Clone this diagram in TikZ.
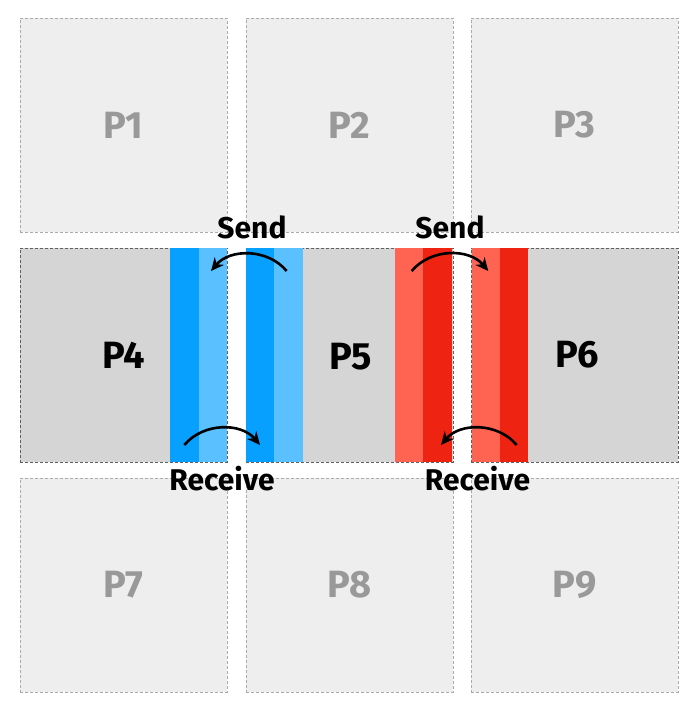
\documentclass[tikz,border=0pt]{standalone}
\usepackage{fontspec}
\setmainfont{Fira Sans}
\usetikzlibrary{arrows.meta}
\definecolor{boxA}{HTML}{EEEEEE}
\definecolor{boxB}{HTML}{D5D5D5}
\definecolor{edgeA}{HTML}{ABABAB}
\definecolor{edgeB}{HTML}{606060}
\definecolor{labA}{HTML}{999999}
\definecolor{blueD}{HTML}{07A0FF}
\definecolor{blueL}{HTML}{5AC0FF}
\definecolor{redL}{HTML}{FF6452}
\definecolor{redD}{HTML}{EF2311}
\begin{document}
\begin{tikzpicture}[x=1pt,y=1pt,
  outer/.style={draw=edgeA, dash pattern=on 3pt off 2pt, line width=0.8pt, fill=boxA,
    minimum width=207pt, minimum height=214pt, inner sep=0pt, text=labA,
    font=\bfseries\fontsize{38}{38}\selectfont},
  mid/.style={outer, draw=edgeB, fill=boxB, text=black},
  plabel/.style={inner sep=0pt, font=\bfseries\fontsize{38}{38}\selectfont},
  strip/.style={minimum width=28.3pt, minimum height=214pt, inner sep=0pt, anchor=north west, draw=none},
  flow/.style={-{Stealth[length=13pt,width=12pt]}, line width=2.6pt},
  lbl/.style={inner sep=0pt, font=\bfseries\fontsize{30}{30}\selectfont}]
\useasboundingbox (0,0) rectangle (694,-708);
% grid of processes
\node[outer] (p1) at (123.5,-125) {P1};
\node[outer] (p2) at (349.5,-125) {P2};
\node[outer] (p3) at (574.5,-125) {P3};
\node[outer] (p7) at (123.5,-585) {P7};
\node[outer] (p8) at (349.5,-585) {P8};
\node[outer] (p9) at (574.5,-585) {P9};
% middle row
\node[mid] (p4) at (123.5,-355) {};
\node[mid] (p5) at (349.5,-355) {};
\node[mid] (p6) at (574.5,-355) {};
% halo strips
\node[strip, fill=blueD] (b1) at (170,-248) {};
\node[strip, fill=blueL] (b2) at (198.3,-248) {};
\node[strip, fill=blueD] (b3) at (246,-248) {};
\node[strip, fill=blueL] (b4) at (274,-248) {};
\node[strip, fill=redL] (r1) at (395,-248) {};
\node[strip, fill=redD] (r2) at (423,-248) {};
\node[strip, fill=redL] (r3) at (471.5,-248) {};
\node[strip, fill=redD] (r4) at (499.7,-248) {};
% labels
\node[plabel] (l4) at (p4) {P4};
\node[plabel] (l5) at (351,-357) {P5};
\node[plabel] (l6) at (577,-355) {P6};
\node[lbl] (sendL) at (252,-227) {Send};
\node[lbl] (sendR) at (450,-227) {Send};
\node[lbl] (recvL) at (222,-479) {Receive};
\node[lbl] (recvR) at (477.5,-479) {Receive};
% arrow ends
\coordinate (a1) at (286.7,-271);
\coordinate (a2) at (211,-271);
\coordinate (a3) at (411.7,-271);
\coordinate (a4) at (488.3,-271);
\coordinate (a5) at (184.3,-445);
\coordinate (a6) at (260,-445);
\coordinate (a7) at (516.7,-445);
\coordinate (a8) at (441,-445);
\draw[flow] (a1) to[bend right=50] (a2);
\draw[flow] (a3) to[bend left=50] (a4);
\draw[flow] (a5) to[bend left=50] (a6);
\draw[flow] (a7) to[bend right=50] (a8);
\end{tikzpicture}
\end{document}
